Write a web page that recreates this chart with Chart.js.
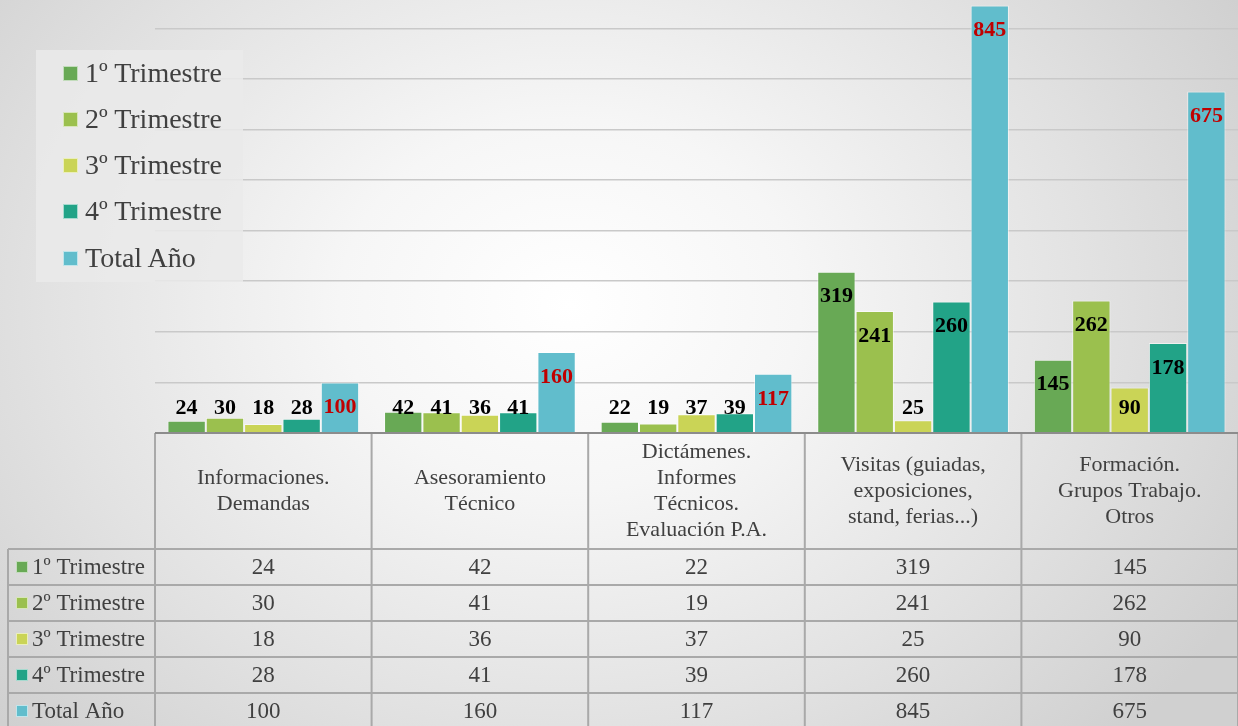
<!DOCTYPE html>
<html>
<head>
<meta charset="utf-8">
<script src="https://cdn.jsdelivr.net/npm/chart.js@4"></script>
<style>
html, body { margin: 0; padding: 0; }
body {
  width: 1238px; height: 726px; overflow: hidden; position: relative;
  background: radial-gradient(ellipse 62% 85% at 46% 42%, #ffffff 0%, #f6f6f6 30%, #e2e2e2 68%, #d0d0d0 100%);
  font-family: "Liberation Serif", serif;
}
#c { position: absolute; left: 0; top: 0; }
#legend {
  position: absolute; left: 36px; top: 50px; width: 207px; height: 232px;
  background: rgba(234, 234, 234, 0.85);
  font-size: 28px; color: #404040;
}
.item { position: absolute; left: 27px; height: 30px; line-height: 30px; white-space: nowrap; }
.sw { position: absolute; left: 0; top: 8px; width: 13px; height: 13px; border: 1px solid rgba(255,255,255,0.6); }
.txt { position: absolute; left: 22px; top: 0; }
</style>
</head>
<body>
<canvas id="c" width="1238" height="726"></canvas>
<div id="legend"></div>
<script>
// categories (multi-line labels)
const categories = [
  ["Informaciones.", "Demandas"],
  ["Asesoramiento", "Técnico"],
  ["Dictámenes.", "Informes", "Técnicos.", "Evaluación P.A."],
  ["Visitas (guiadas,", "exposiciones,", "stand, ferias...)"],
  ["Formación.", "Grupos Trabajo.", "Otros"]
];
const seriesNames = ["1º Trimestre", "2º Trimestre", "3º Trimestre", "4º Trimestre", "Total Año"];
const trimestre1 = [24, 42, 22, 319, 145];
const trimestre2 = [30, 41, 19, 241, 262];
const trimestre3 = [18, 36, 37, 25, 90];
const trimestre4 = [28, 41, 39, 260, 178];
const totalAno = [100, 160, 117, 845, 675];
const yTicks = [0, 100, 200, 300, 400, 500, 600, 700, 800];

const seriesValues = [trimestre1, trimestre2, trimestre3, trimestre4, totalAno];
const colors = ['#68a955', '#9bc04e', '#cad456', '#22a387', '#61bdcc'];
const labelColors = ['#000000', '#000000', '#000000', '#000000', '#c00000'];

// bar value labels, placed inside the top of the bar or just above short ones
const valueLabels = {
  id: 'valueLabels',
  afterDatasetsDraw(chart) {
    const {ctx} = chart;
    ctx.save();
    ctx.font = 'bold 22px "Liberation Serif"';
    ctx.textAlign = 'center';
    ctx.textBaseline = 'middle';
    chart.data.datasets.forEach((ds, i) => {
      chart.getDatasetMeta(i).data.forEach((bar, j) => {
        const y = Math.min(bar.y + 25, bar.base - 24);
        ctx.fillStyle = labelColors[i];
        ctx.fillText(String(ds.data[j]), bar.x, y);
      });
    });
    ctx.restore();
  }
};

// data table under the plot
const dataTable = {
  id: 'dataTable',
  afterDraw(chart) {
    const {ctx, chartArea: ca, scales: {x}} = chart;
    const n = categories.length;
    const colW = (ca.right - ca.left) / n;
    const top = ca.bottom, headH = 116, rowH = 36, labelLeft = 8;
    const rowsTop = top + headH;
    ctx.save();
    ctx.strokeStyle = '#a9a9a9';
    ctx.lineWidth = 2;
    ctx.beginPath();
    for (let r = 0; r <= seriesNames.length; r++) {
      const y = rowsTop + r * rowH;
      ctx.moveTo(labelLeft, y); ctx.lineTo(ca.right, y);
    }
    for (let i = 0; i <= n; i++) {
      const xx = ca.left + i * colW;
      ctx.moveTo(xx, top); ctx.lineTo(xx, chart.height + 5);
    }
    ctx.moveTo(labelLeft, rowsTop); ctx.lineTo(labelLeft, chart.height + 5);
    ctx.stroke();

    // axis baseline
    ctx.strokeStyle = '#8c8c8c';
    ctx.lineWidth = 2;
    ctx.beginPath();
    ctx.moveTo(ca.left, top); ctx.lineTo(ca.right, top);
    ctx.stroke();

    ctx.fillStyle = '#404040';
    ctx.font = '22px "Liberation Serif"';
    ctx.textAlign = 'center';
    ctx.textBaseline = 'middle';
    categories.forEach((lines, i) => {
      const cx = x.getPixelForValue(i);
      const lh = 26;
      const y0 = top + headH / 2 - (lines.length - 1) * lh / 2;
      lines.forEach((l, k) => ctx.fillText(l, cx, y0 + k * lh));
    });

    ctx.font = '23px "Liberation Serif"';
    seriesValues.forEach((vals, r) => {
      const cy = rowsTop + r * rowH + rowH / 2;
      ctx.fillStyle = colors[r];
      ctx.fillRect(16, cy - 6, 12, 12);
      ctx.strokeStyle = 'rgba(255,255,255,0.6)';
      ctx.lineWidth = 1;
      ctx.strokeRect(16.5, cy - 5.5, 11, 11);
      ctx.fillStyle = '#404040';
      ctx.textAlign = 'left';
      ctx.fillText(seriesNames[r], 32, cy + 1);
      ctx.textAlign = 'center';
      vals.forEach((v, i) => ctx.fillText(String(v), x.getPixelForValue(i), cy + 1));
    });
    ctx.restore();
  }
};

const chart = new Chart(document.getElementById('c'), {
  type: 'bar',
  data: {
    labels: categories,
    datasets: seriesNames.map((name, i) => ({
      label: name,
      data: seriesValues[i],
      backgroundColor: colors[i],
      borderColor: 'rgba(255,255,255,0.55)',
      borderWidth: 1,
      barPercentage: 1,
      categoryPercentage: 0.885
    }))
  },
  options: {
    responsive: false,
    animation: false,
    layout: {padding: {left: 155, right: 0, top: 0, bottom: 293}},
    plugins: {legend: {display: false}, tooltip: {enabled: false}},
    scales: {
      x: {display: false},
      y: {
        min: 0,
        max: 856,
        afterBuildTicks: s => { s.ticks = yTicks.map(v => ({value: v})); },
        ticks: {display: false},
        border: {display: false},
        grid: {color: '#c9c9c9', lineWidth: 1.5, drawTicks: false, tickLength: 0}
      }
    }
  },
  plugins: [valueLabels, dataTable]
});

// legend box
const legend = document.getElementById('legend');
const legendCenters = [23, 69, 115, 161, 208];
seriesNames.forEach((name, i) => {
  const item = document.createElement('div');
  item.className = 'item';
  item.style.top = (legendCenters[i] - 15) + 'px';
  item.innerHTML = '<span class="sw" style="background:' + colors[i] + '"></span><span class="txt">' + name + '</span>';
  legend.appendChild(item);
});
</script>
</body>
</html>
